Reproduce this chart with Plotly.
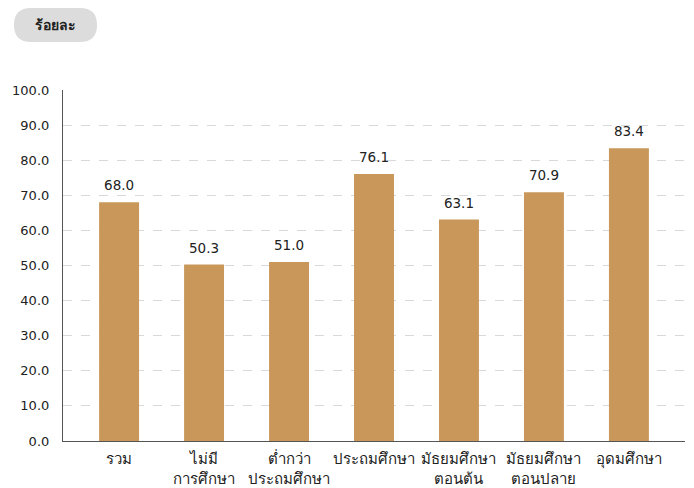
import plotly.graph_objects as go

categories = ["รวม", "ไม่มี<br>การศึกษา", "ต่ำกว่า<br>ประถมศึกษา", "ประถมศึกษา",
              "มัธยมศึกษา<br>ตอนต้น", "มัธยมศึกษา<br>ตอนปลาย", "อุดมศึกษา"]
values = [68.0, 50.3, 51.0, 76.1, 63.1, 70.9, 83.4]
y_ticks = [0, 10, 20, 30, 40, 50, 60, 70, 80, 90, 100]
title_text = "ร้อยละ"

OFF = 8  # page body margin
W, H = 694 - OFF, 488 - OFF
# target plot area in screenshot pixels: x 63..685, y 90..441
L, R, T, B = 63 - OFF, 694 - 685, 90 - OFF, 488 - 441
pw, ph = W - L - R, H - T - B

def px(x):
    return (x - OFF - L) / pw

def py(y):
    return (H - B - (y - OFF)) / ph

FONT = "'DejaVu Sans', sans-serif"
xs = list(range(len(categories)))

fig = go.Figure()
fig.add_trace(go.Bar(
    x=xs, y=values,
    marker=dict(color="#C9975A", line=dict(width=0)),
    width=0.47, hoverinfo="x+y",
))
fig.add_trace(go.Scatter(
    x=xs, y=values, mode="markers+text",
    marker=dict(size=12, opacity=0),
    text=[f"{v:.1f}" for v in values], textposition="top center",
    textfont=dict(size=13.5, color="#222222", family=FONT),
    cliponaxis=False, hoverinfo="skip",
))

# rounded title box (screenshot pixels)
x0, x1, y0, y1, r = 14, 97, 8, 42, 17
path = (f"M {px(x0 + r)},{py(y0)} L {px(x1 - r)},{py(y0)} "
        f"Q {px(x1)},{py(y0)} {px(x1)},{py(y0 + r)} "
        f"Q {px(x1)},{py(y1)} {px(x1 - r)},{py(y1)} "
        f"L {px(x0 + r)},{py(y1)} "
        f"Q {px(x0)},{py(y1)} {px(x0)},{py(y1 - r)} "
        f"Q {px(x0)},{py(y0)} {px(x0 + r)},{py(y0)} Z")
fig.add_shape(type="path", path=path, xref="paper", yref="paper",
              fillcolor="#DCDCDC", line=dict(width=0), layer="above")
fig.add_annotation(text=f"<b>{title_text}</b>", xref="paper", yref="paper",
                   x=px((x0 + x1) / 2), y=py((y0 + y1) / 2), showarrow=False,
                   font=dict(size=14, color="#222222", family=FONT),
                   xanchor="center", yanchor="middle")

fig.update_layout(
    width=W, height=H,
    margin=dict(l=L, r=R, t=T, b=B, autoexpand=False),
    paper_bgcolor="white", plot_bgcolor="white",
    showlegend=False,
    font=dict(family=FONT, size=13, color="#222222"),
    xaxis=dict(
        tickmode="array", tickvals=xs, ticktext=categories,
        range=[-0.66, 6.66], showgrid=False, zeroline=False,
        showline=True, linecolor="#555555", linewidth=1.2,
        ticks="", tickangle=0, ticklabelstandoff=4, automargin=False,
        tickfont=dict(size=15, color="#222222", family=FONT),
    ),
    yaxis=dict(
        range=[0, 100], tickvals=y_ticks, ticktext=[f"{v:.1f}" for v in y_ticks],
        showgrid=True, gridcolor="#D9D9D9", griddash="dash", gridwidth=1,
        zeroline=False, showline=True, linecolor="#555555", linewidth=1.2,
        ticks="", ticklabelstandoff=10, automargin=False,
        tickfont=dict(size=13, color="#222222", family=FONT),
    ),
)

fig.write_html("out.html")
